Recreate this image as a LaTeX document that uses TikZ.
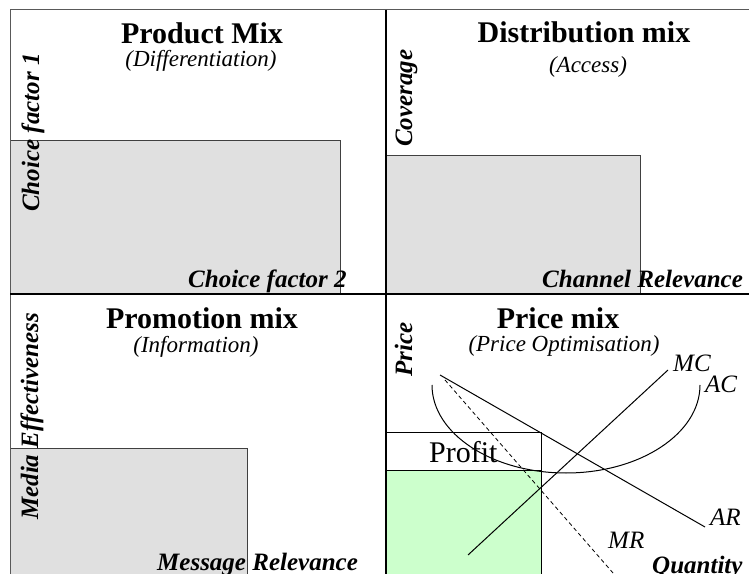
\documentclass[tikz,border=0pt]{standalone}
\usepackage{fontspec}
\setmainfont{Liberation Serif}
\begin{document}
\begin{tikzpicture}[x=1pt,y=1pt,
  title/.style={inner sep=0pt, anchor=base, font=\fontsize{30}{31}\selectfont\bfseries},
  subtitle/.style={inner sep=0pt, anchor=base, font=\fontsize{23}{24}\selectfont\itshape},
  axislabel/.style={inner sep=0pt, anchor=base west, font=\fontsize{25}{26}\selectfont\bfseries\itshape},
  vaxislabel/.style={axislabel, rotate=90},
  curvelabel/.style={inner sep=0pt, anchor=base west, font=\fontsize{25}{26}\selectfont\itshape},
  greybox/.style={draw=black!75, line width=0.8pt, fill=black!12},
  curve/.style={line width=1pt, black},
  frame/.style={draw=black!65, line width=1pt},
  divider/.style={draw=black, line width=1.8pt}
]
\useasboundingbox (0,0) rectangle (749,573);
\clip (0,0) rectangle (749,573);

% grey boxes
\node[greybox, inner sep=0pt, minimum width=330pt, minimum height=153pt, anchor=south west] (tlbox) at (10,279) {};
\node[greybox, inner sep=0pt, minimum width=254pt, minimum height=138pt, anchor=south west] (trbox) at (386,279) {};
\node[greybox, inner sep=0pt, minimum width=237pt, minimum height=130pt, anchor=south west] (blbox) at (10,-6) {};
% price quadrant boxes
\node[draw=black, line width=0.8pt, fill=green!20, inner sep=0pt, minimum width=155pt, minimum height=108pt, anchor=south west] (cost) at (386,-6) {};
\node[draw=black, line width=0.8pt, fill=white, inner sep=0pt, minimum width=155pt, minimum height=38pt, anchor=south west] (profitbox) at (386,102) {};
\node[inner sep=0pt, anchor=base west, font=\fontsize{30}{31}\selectfont] (profit) at (429,111) {Profit};

% frame
\coordinate (fbl) at (10,-5);
\coordinate (ftl) at (10,563);
\coordinate (ftr) at (755,563);
\draw[frame] (fbl) -- (ftl) -- (ftr);
\coordinate (vtop) at (386,563);
\coordinate (vbot) at (386,-5);
\coordinate (hl) at (10,279);
\coordinate (hr) at (755,279);
\draw[divider] (vtop) -- (vbot);
\draw[divider] (hl) -- (hr);

% titles
\node[title] (t1) at (202,529) {Product Mix};
\node[subtitle] (s1) at (201,506) {(Differentiation)};
\node[title] (t2) at (584,530) {Distribution mix};
\node[subtitle] (s2) at (588,500) {(Access)};
\node[title] (t3) at (202,244) {Promotion mix};
\node[subtitle] (s3) at (196,220) {(Information)};
\node[title] (t4) at (558,244) {Price mix};
\node[subtitle] (s4) at (564,221) {(Price Optimisation)};

% axis labels
\node[vaxislabel] (a1) at (39,361) {Choice factor 1};
\node[axislabel] (b1) at (188,285) {Choice factor 2};
\node[vaxislabel] (a2) at (412,426) {Coverage};
\node[axislabel] (b2) at (542,285) {Channel Relevance};
\node[vaxislabel] (a3) at (38,53) {Media Effectiveness};
\node[axislabel] (b3) at (157,3) {Message Relevance};
\node[vaxislabel] (a4) at (412,196) {Price};
\node[axislabel] (b4) at (652,0) {Quantity};

% curves
\coordinate (ar1) at (440,198);
\coordinate (ar2) at (705,46);
\draw[curve] (ar1) -- (ar2);
\coordinate (mr1) at (445,193);
\coordinate (mr2) at (620,-8);
\draw[curve, line width=0.8pt, dash pattern=on 4pt off 3pt] (mr1) -- (mr2);
\coordinate (mc1) at (468,18);
\coordinate (mc2) at (668,203);
\draw[curve] (mc1) -- (mc2);
\coordinate (ac1) at (432,188);
\draw[curve] (ac1) arc[start angle=180, end angle=360, x radius=134, y radius=88];

\node[curvelabel] (lmc) at (673,201) {MC};
\node[curvelabel] (lac) at (705,180) {AC};
\node[curvelabel] (lar) at (710,48) {AR};
\node[curvelabel] (lmr) at (608,25) {MR};
\end{tikzpicture}
\end{document}
